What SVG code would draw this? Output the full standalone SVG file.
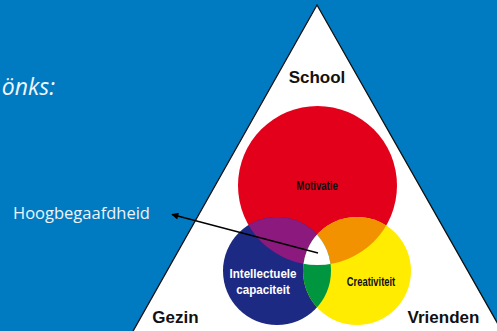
<svg xmlns="http://www.w3.org/2000/svg" width="497" height="331" viewBox="0 0 497 331">
<style>
.lbl{font-family:"Liberation Sans",Arial,sans-serif;font-weight:bold;fill:#111;text-anchor:middle}
.in{font-family:"Liberation Sans",Arial,sans-serif;font-weight:bold;text-anchor:middle}
</style>
<defs>
<clipPath id="cR"><circle cx="317.5" cy="185.5" r="79.5"/></clipPath>
<clipPath id="cB"><circle cx="277" cy="271" r="54"/></clipPath>
<marker id="ah" viewBox="0 0 10 10" refX="9" refY="5" markerWidth="9" markerHeight="7" orient="auto" markerUnits="userSpaceOnUse"><path d="M0,0 L10,5 L0,10 z" fill="#000"/></marker>
</defs>
<rect width="497" height="331" fill="#007bc2"/>
<text x="55" y="95" text-anchor="end" font-family="Open Sans,Liberation Sans,sans-serif" font-style="italic" font-size="23" fill="#f2f6fa">önks:</text>
<g id="triangle"><polygon points="317,5 132,333 503,333" fill="#fff" stroke="#111" stroke-width="1.3"/></g>
<g id="motivatie">
<circle cx="317.5" cy="185.5" r="79.5" fill="#e2001a"/>
</g>
<g id="intellectuele">
<circle cx="277" cy="271" r="54" fill="#1d2a84"/>
</g>
<g id="creativiteit">
<circle cx="357" cy="271" r="54" fill="#ffec00"/>
</g>
<g id="overlaps">
<circle cx="277" cy="271" r="54" fill="#8c1a7e" clip-path="url(#cR)"/>
<circle cx="357" cy="271" r="54" fill="#f39200" clip-path="url(#cR)"/>
<circle cx="357" cy="271" r="54" fill="#009640" clip-path="url(#cB)"/>
<g clip-path="url(#cR)"><circle cx="357" cy="271" r="54" fill="#fff" clip-path="url(#cB)"/></g>
</g>
<g id="labels">
<text class="lbl" x="317" y="83" font-size="17">School</text>
<text class="lbl" x="175.5" y="323" font-size="17">Gezin</text>
<text class="lbl" x="443.5" y="323" font-size="17">Vrienden</text>
<text class="lbl" transform="translate(317,190) scale(0.77,1)" x="0" y="0" font-size="12.5">Motivatie</text>
<text class="lbl" transform="translate(371,286) scale(0.72,1)" x="0" y="0" font-size="13">Creativiteit</text>
<text class="in" fill="#fff" transform="translate(263,278) scale(0.86,1)" x="0" y="0" font-size="13.5">Intellectuele</text>
<text class="in" fill="#fff" transform="translate(263,293.5) scale(0.86,1)" x="0" y="0" font-size="13.5">capaciteit</text>
</g>
<g id="hoog">
<text x="13" y="219" font-family="Open Sans,Liberation Sans,sans-serif" font-size="16.5" fill="#eef3f8">Hoogbegaafdheid</text>
</g>
<g id="connectors">
<line x1="318" y1="253" x2="172" y2="214.5" stroke="#000" stroke-width="1.3" marker-end="url(#ah)"/>
</g>
</svg>
